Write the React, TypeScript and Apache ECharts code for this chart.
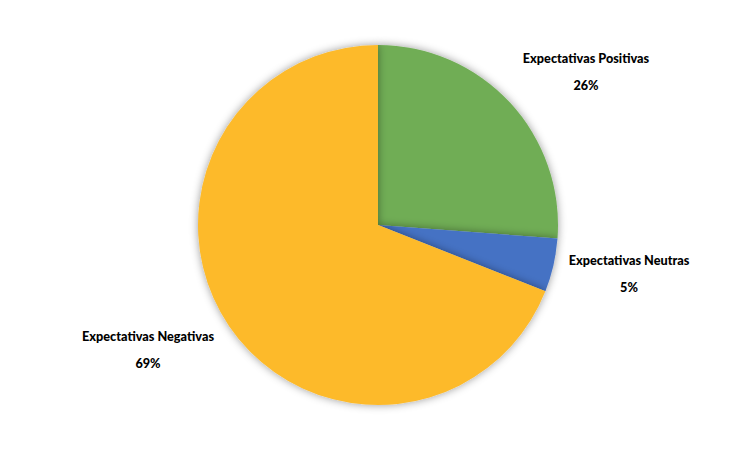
import React, { useEffect, useRef } from "react";
import * as echarts from "echarts";

const categories = ["Expectativas Positivas", "Expectativas Neutras", "Expectativas Negativas"];
const values = [26.2, 4.8, 69];
const colors = ["#70AD55", "#4472C4", "#FDBA2C"];
const labelPos: [number, number][] = [[586, 71], [629, 273], [148, 349]];

export default function App() {
  const ref = useRef<HTMLDivElement>(null);
  useEffect(() => {
    const chart = echarts.init(ref.current!, null, { renderer: "svg" });
    chart.setOption({
      animation: false,
      backgroundColor: "#ffffff",
      series: [
        {
          type: "pie",
          center: [378, 225],
          radius: 180,
          startAngle: 90,
          clockwise: true,
          data: categories.map((c, i) => ({
            name: c,
            value: values[i],
            itemStyle: { color: colors[i] },
          })),
          itemStyle: {
            shadowBlur: 9,
            shadowColor: "rgba(0,0,0,0.4)",
          },
          label: {
            show: true,
            position: "outside",
            formatter: (p: any) => `${p.name}\n${Math.round(p.percent)}%`,
            fontFamily: "Lato",
            fontWeight: 900,
            fontSize: 12.7,
            lineHeight: 27,
            color: "#000",
            align: "center",
          },
          labelLine: { show: false },
          labelLayout: (params: any) => ({
            x: labelPos[params.dataIndex][0],
            y: labelPos[params.dataIndex][1],
            align: "center",
            verticalAlign: "middle",
          }),
          emphasis: { disabled: true },
        },
      ],
    });
    return () => chart.dispose();
  }, []);
  return (
    <div
      ref={ref}
      style={{ position: "fixed", left: 0, top: 0, width: 755, height: 449 }}
    />
  );
}
